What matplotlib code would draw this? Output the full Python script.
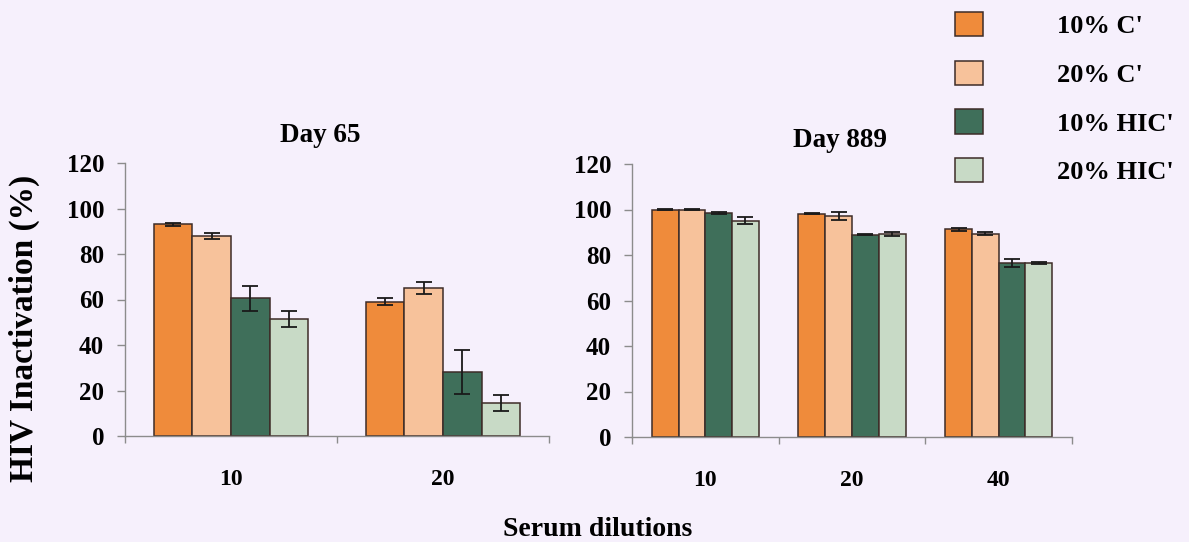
import numpy as np
import matplotlib
matplotlib.use("Agg")
import matplotlib.pyplot as plt

plt.rcParams['font.family'] = ['Liberation Serif', 'DejaVu Serif']
plt.rcParams['font.weight'] = 'bold'

series = ["10% C'", "20% C'", "10% HIC'", "20% HIC'"]
colors = ['#EF8B3B', '#F7C29B', '#3F6F5A', '#C8DAC6']

# Day 65
day65_dilutions = ['10', '20']
day65_values = [[93, 59], [88, 65], [60.5, 28], [51.5, 14.5]]
day65_errors = [[0.6, 1.5], [1.3, 2.5], [5.5, 9.7], [3.5, 3.7]]

# Day 889
day889_dilutions = ['10', '20', '40']
day889_values = [[100, 98.2, 91.3], [100, 97.3, 89.4], [98.5, 89, 76.4], [95, 89.2, 76.5]]
day889_errors = [[0.2, 0.3, 0.6], [0.2, 1.8, 0.7], [0.5, 0.3, 1.8], [1.5, 0.7, 0.4]]

bg = '#F6F0FC'
edge = '#3d2c28'
spine = '#8c8c8c'

W, H = 1189, 542
fig = plt.figure(figsize=(W / 100, H / 100), dpi=100, facecolor=bg)


def px_axes(x0, x1, ytop, ybot):
    return fig.add_axes([x0 / W, 1 - ybot / H, (x1 - x0) / W, (ybot - ytop) / H])


def draw_panel(ax, cats, values, errors):
    ax.set_facecolor(bg)
    n = len(cats)
    x = np.arange(n)
    bw = 0.73 / 4
    handles = []
    for i in range(4):
        pos = x + (i - 1.5) * bw
        h = ax.bar(pos, values[i], bw, color=colors[i], edgecolor=edge,
                   linewidth=1.1, label=series[i], zorder=2)
        ax.errorbar(pos, values[i], yerr=errors[i], fmt='none', ecolor='#1a1a1a',
                    elinewidth=1.3, capsize=5.5, capthick=1.3, zorder=3)
        handles.append(h)
    ax.set_xlim(-0.5, n - 0.5)
    ax.set_ylim(0, 120)
    ax.set_yticks(np.arange(0, 121, 20))
    ax.set_xticks(np.arange(n + 1) - 0.5)
    ax.set_xticklabels([])
    ax.set_xticks(x, minor=True)
    ax.set_xticklabels(cats, minor=True)
    ax.tick_params(axis='x', which='minor', length=0, pad=24, labelsize=17)
    ax.tick_params(axis='x', which='major', length=5, color=spine, width=1)
    ax.tick_params(axis='y', length=6, color=spine, width=1, pad=9, labelsize=18)
    for s in ['top', 'right']:
        ax.spines[s].set_visible(False)
    for s in ['left', 'bottom']:
        ax.spines[s].set_color(spine)
        ax.spines[s].set_linewidth(1)
    return handles


ax1 = px_axes(125, 549, 163, 436)
handles = draw_panel(ax1, day65_dilutions, day65_values, day65_errors)
ax2 = px_axes(632, 1072, 164, 437)
draw_panel(ax2, day889_dilutions, day889_values, day889_errors)

fig.text(320 / W, 1 - 136 / H, 'Day 65', ha='center', va='center', fontsize=19.5)
fig.text(840 / W, 1 - 140 / H, 'Day 889', ha='center', va='center', fontsize=19.5)

fig.text(24 / W, 1 - 328 / H, 'HIV Inactivation (%)', rotation=90, ha='center',
         va='center', fontsize=24)
fig.text(598 / W, 1 - 529 / H, 'Serum dilutions', ha='center', va='center',
         fontsize=20)

fig.legend(handles, series, loc='upper left', bbox_to_anchor=(955 / W, 1 - 12 / H),
           frameon=False, fontsize=19, handlelength=1.05, handleheight=1.05,
           handletextpad=2.8, labelspacing=0.85, borderpad=0, borderaxespad=0)

fig.savefig('out.png', dpi=100, facecolor=bg)
